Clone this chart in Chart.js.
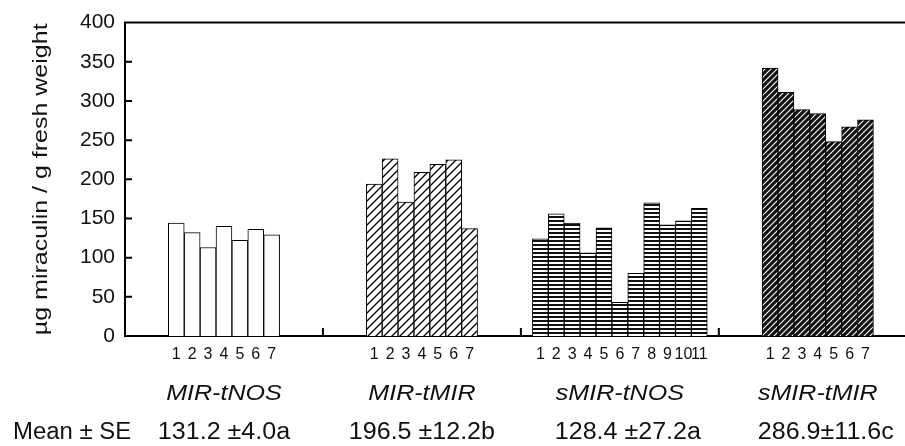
<!DOCTYPE html>
<html>
<head>
<meta charset="utf-8">
<script src="https://cdn.jsdelivr.net/npm/chart.js@4.4.1/dist/chart.umd.min.js"></script>
<style>
  html, body { margin: 0; padding: 0; background: #fff; }
  #wrap { width: 905px; height: 446px; }
</style>
</head>
<body>
<div id="wrap"><canvas id="chart" width="905" height="446"></canvas></div>
<script>
// values (µg miraculin / g fresh weight)
const groupNames = ['MIR-tNOS', 'MIR-tMIR', 'sMIR-tNOS', 'sMIR-tMIR'];
const meanLabels = ['131.2 \u00b14.0a', '196.5 \u00b112.2b', '128.4 \u00b127.2a', '286.9\u00b111.6c'];
const mirTnos = [144, 132, 113, 140, 122, 136, 129];
const mirTmir = [194, 226, 171, 209, 219, 225, 137];
const smirTnos = [124, 156, 144, 106, 138, 43, 80, 170, 142, 147, 163];
const smirTmir = [342, 311, 289, 284, 248, 267, 276];
const yTicks = [0, 50, 100, 150, 200, 250, 300, 350, 400];
const yTitle = '\u00b5g miraculin / g fresh weight';

const groups = [mirTnos, mirTmir, smirTnos, smirTmir];
const GROUP_SPAN = 12.45;   // width of one group slot, in bar widths
const X_MAX = 49.06;

const FONT = "'Liberation Sans', Arial, Helvetica, sans-serif";

function makePattern(size, draw) {
  const c = document.createElement('canvas');
  c.width = size; c.height = size;
  const g = c.getContext('2d');
  draw(g, size);
  return g.createPattern(c, 'repeat');
}

const fills = [
  '#ffffff',
  makePattern(8, (g, s) => {
    g.fillStyle = '#fff'; g.fillRect(0, 0, s, s);
    g.strokeStyle = '#000'; g.lineWidth = 1.3;
    g.beginPath();
    g.moveTo(0, s); g.lineTo(s, 0);
    g.moveTo(-2, 2); g.lineTo(2, -2);
    g.moveTo(s - 2, s + 2); g.lineTo(s + 2, s - 2);
    g.stroke();
  }),
  makePattern(4, (g, s) => {
    g.fillStyle = '#fff'; g.fillRect(0, 0, s, s);
    g.fillStyle = '#111'; g.fillRect(0, 0, s, 2);
  }),
  makePattern(6, (g, s) => {
    g.fillStyle = '#111'; g.fillRect(0, 0, s, s);
    g.strokeStyle = '#fff'; g.lineWidth = 1.1;
    g.beginPath();
    g.moveTo(0, s); g.lineTo(s, 0);
    g.moveTo(-2, 2); g.lineTo(2, -2);
    g.moveTo(s - 2, s + 2); g.lineTo(s + 2, s - 2);
    g.stroke();
  })
];

// bar positions (in bar widths) and their tick labels
const tickPos = [];
const tickText = [];
const datasets = groups.map((vals, g) => {
  const center = g * GROUP_SPAN + GROUP_SPAN / 2;
  const data = vals.map((v, i) => {
    const x = center + i - (vals.length - 1) / 2;
    tickPos.push(x);
    tickText.push(String(i + 1));
    return { x: x, y: v };
  });
  return {
    label: groupNames[g],
    data: data,
    backgroundColor: fills[g],
    borderColor: '#000',
    borderWidth: 1,
    borderSkipped: 'start',
    barPercentage: 1,
    categoryPercentage: 1,
    grouped: false
  };
});

function stretchedText(ctx, text, x, y, sx, align) {
  ctx.save();
  ctx.translate(x, y);
  ctx.scale(sx, 1);
  ctx.textAlign = align;
  ctx.fillText(text, 0, 0);
  ctx.restore();
}

const decor = {
  id: 'decor',
  afterDraw(chart) {
    const ctx = chart.ctx;
    const { left, right, top, bottom } = chart.chartArea;
    const xs = chart.scales.x, ys = chart.scales.y;
    ctx.save();
    ctx.strokeStyle = '#000';
    ctx.lineWidth = 2;
    ctx.beginPath();
    // top frame line
    ctx.moveTo(left - 1, top); ctx.lineTo(right, top);
    // inward y ticks
    yTicks.forEach(v => {
      if (v === 0 || v === 400) return;
      const y = ys.getPixelForValue(v);
      ctx.moveTo(left, y); ctx.lineTo(left + 7, y);
    });
    // group separators on the x axis
    for (let g = 1; g < groups.length; g++) {
      const x = xs.getPixelForValue(g * GROUP_SPAN);
      ctx.moveTo(x, bottom); ctx.lineTo(x, bottom - 8);
    }
    ctx.stroke();

    ctx.fillStyle = '#111';
    ctx.textBaseline = 'middle';
    // group names and means
    ctx.font = 'italic 22px ' + FONT;
    groupNames.forEach((name, g) => {
      const x = xs.getPixelForValue(g * GROUP_SPAN + GROUP_SPAN / 2);
      stretchedText(ctx, name, x, 394, 1.14, 'center');
    });
    ctx.font = '23px ' + FONT;
    meanLabels.forEach((m, g) => {
      const x = xs.getPixelForValue(g * GROUP_SPAN + GROUP_SPAN / 2) + (g >= 2 ? 8 : 0);
      stretchedText(ctx, m, x, 433, 1.09, 'center');
    });
    stretchedText(ctx, 'Mean \u00b1 SE', 13, 433, 1.04, 'left');

    // y axis title
    ctx.save();
    ctx.translate(41, (top + bottom) / 2);
    ctx.rotate(-Math.PI / 2);
    ctx.font = '20px ' + FONT;
    stretchedText(ctx, yTitle, 0, 0, 1.25, 'center');
    ctx.restore();
    ctx.restore();
  }
};

new Chart(document.getElementById('chart'), {
  type: 'bar',
  data: { datasets: datasets },
  options: {
    responsive: false,
    animation: false,
    devicePixelRatio: 1,
    layout: { padding: { top: 15, left: 0, right: 0, bottom: 0 } },
    plugins: { legend: { display: false }, tooltip: { enabled: false } },
    scales: {
      x: {
        type: 'linear',
        min: 0,
        max: X_MAX,
        offset: false,
        grid: { display: false, drawTicks: false },
        border: { display: true, color: '#000', width: 2 },
        afterBuildTicks: (scale) => { scale.ticks = tickPos.map(v => ({ value: v })); },
        afterFit: (scale) => { scale.height = 110; },
        ticks: {
          autoSkip: false,
          maxRotation: 0,
          minRotation: 0,
          padding: 9,
          color: '#111',
          font: { family: FONT, size: 16 },
          callback: (value, index) => tickText[index]
        }
      },
      y: {
        min: 0,
        max: 400,
        grid: { display: false, drawTicks: false },
        border: { display: true, color: '#000', width: 2 },
        afterFit: (scale) => { scale.width = 125; },
        ticks: {
          stepSize: 50,
          padding: 10,
          color: '#111',
          font: { family: FONT, size: 21 }
        }
      }
    }
  },
  plugins: [decor]
});
</script>
</body>
</html>
